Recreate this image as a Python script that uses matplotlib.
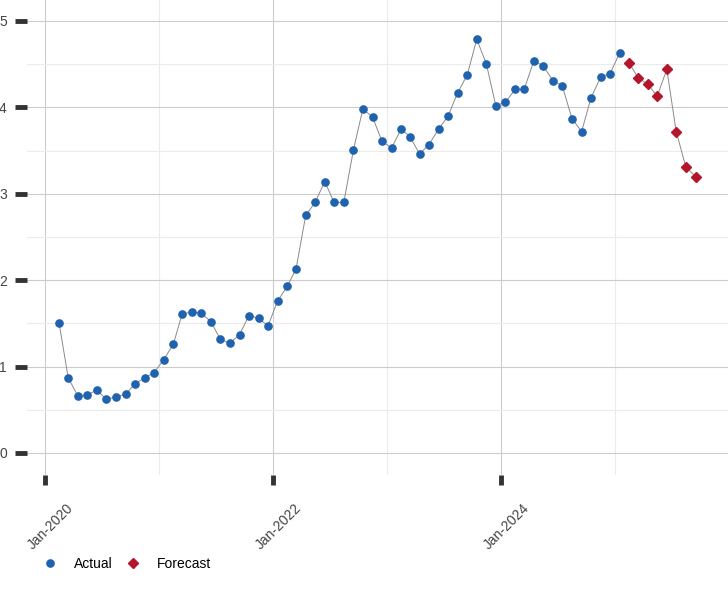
import numpy as np
import pandas as pd
import matplotlib
matplotlib.use("Agg")
import matplotlib.pyplot as plt
import matplotlib.transforms as mtransforms

# monthly values, Feb-2020 .. Jan-2025 (actual), Feb-2025 .. Sep-2025 (forecast)
actual_start = "2020-02-01"
actual_vals = [
    1.50, 0.87, 0.66, 0.67, 0.73, 0.62, 0.65, 0.68, 0.80, 0.87, 0.93, 1.08,
    1.26, 1.61, 1.63, 1.62, 1.52, 1.32, 1.27, 1.37, 1.59, 1.56, 1.47, 1.76,
    1.93, 2.13, 2.75, 2.90, 3.14, 2.90, 2.90, 3.51, 3.98, 3.89, 3.61, 3.53,
    3.75, 3.66, 3.46, 3.57, 3.75, 3.90, 4.17, 4.38, 4.79, 4.50, 4.02, 4.06,
    4.21, 4.21, 4.54, 4.48, 4.31, 4.25, 3.87, 3.72, 4.11, 4.35, 4.39, 4.63,
]
forecast_start = "2025-02-01"
forecast_vals = [4.51, 4.34, 4.27, 4.13, 4.44, 3.72, 3.31, 3.20]

xtick_labels = ["Jan-2020", "Jan-2022", "Jan-2024"]
series_names = ["Actual", "Forecast"]

BLUE = "#1f62ae"
RED = "#b5152b"
LINE = "#8a8a8a"

actual_dates = pd.date_range(actual_start, periods=len(actual_vals), freq="MS") + pd.Timedelta(days=14)
forecast_dates = pd.date_range(forecast_start, periods=len(forecast_vals), freq="MS") + pd.Timedelta(days=14)

plt.rcParams["font.family"] = ["Liberation Sans", "DejaVu Sans"]

fig = plt.figure(figsize=(7.28, 6.0), dpi=100)
ax = fig.add_axes([27 / 728, 125 / 600, 701 / 728, 475 / 600])

ax.plot(actual_dates, actual_vals, color=LINE, lw=0.7, zorder=2)
ax.plot(forecast_dates, forecast_vals, color=LINE, lw=0.7, zorder=2)
ax.plot(actual_dates, actual_vals, ls="none", marker="o", ms=5.2, color=BLUE,
        mec=BLUE, zorder=3, label=series_names[0])
ax.plot(forecast_dates, forecast_vals, ls="none", marker="D", ms=5.0, color=RED,
        mec=RED, zorder=3, label=series_names[1])

ax.set_xlim(pd.Timestamp("2019-11-04"), pd.Timestamp("2025-12-28"))
ax.set_ylim(-0.255, 5.243)

major_x = pd.to_datetime(["2020-01-01", "2022-01-01", "2024-01-01"])
minor_x = pd.to_datetime(["2021-01-01", "2023-01-01", "2025-01-01"])
ax.set_xticks(major_x)
ax.set_xticklabels(xtick_labels)
ax.set_xticks(minor_x, minor=True)
ax.set_yticks(np.arange(0, 6, 1))
ax.set_yticks(np.arange(0.5, 5.5, 1), minor=True)

ax.grid(which="major", color="#cccccc", lw=0.8)
ax.grid(which="minor", color="#ebebeb", lw=0.8)
ax.set_axisbelow(True)
for s in ax.spines.values():
    s.set_visible(False)

ax.tick_params(axis="y", which="major", direction="out", length=8.5, width=3.5,
               color="#333333", pad=6, labelsize=10, labelcolor="#444444")
ax.tick_params(axis="x", which="major", direction="out", length=7.5, width=3.5,
               color="#333333", pad=9, labelsize=10, labelcolor="#444444")
ax.tick_params(which="minor", length=0)
shift = mtransforms.ScaledTranslation(5 / 100, -3 / 100, fig.dpi_scale_trans)
for lbl in ax.get_xticklabels():
    lbl.set_rotation(45)
    lbl.set_ha("center")
    lbl.set_transform(lbl.get_transform() + shift)

fig.legend(loc="center left", bbox_to_anchor=(27 / 728, 1 - 564 / 600), ncol=2,
           frameon=False, fontsize=10, handletextpad=0.98, columnspacing=0.72,
           handlelength=1.5, markerscale=1.0)

fig.savefig("out.png", dpi=100)
